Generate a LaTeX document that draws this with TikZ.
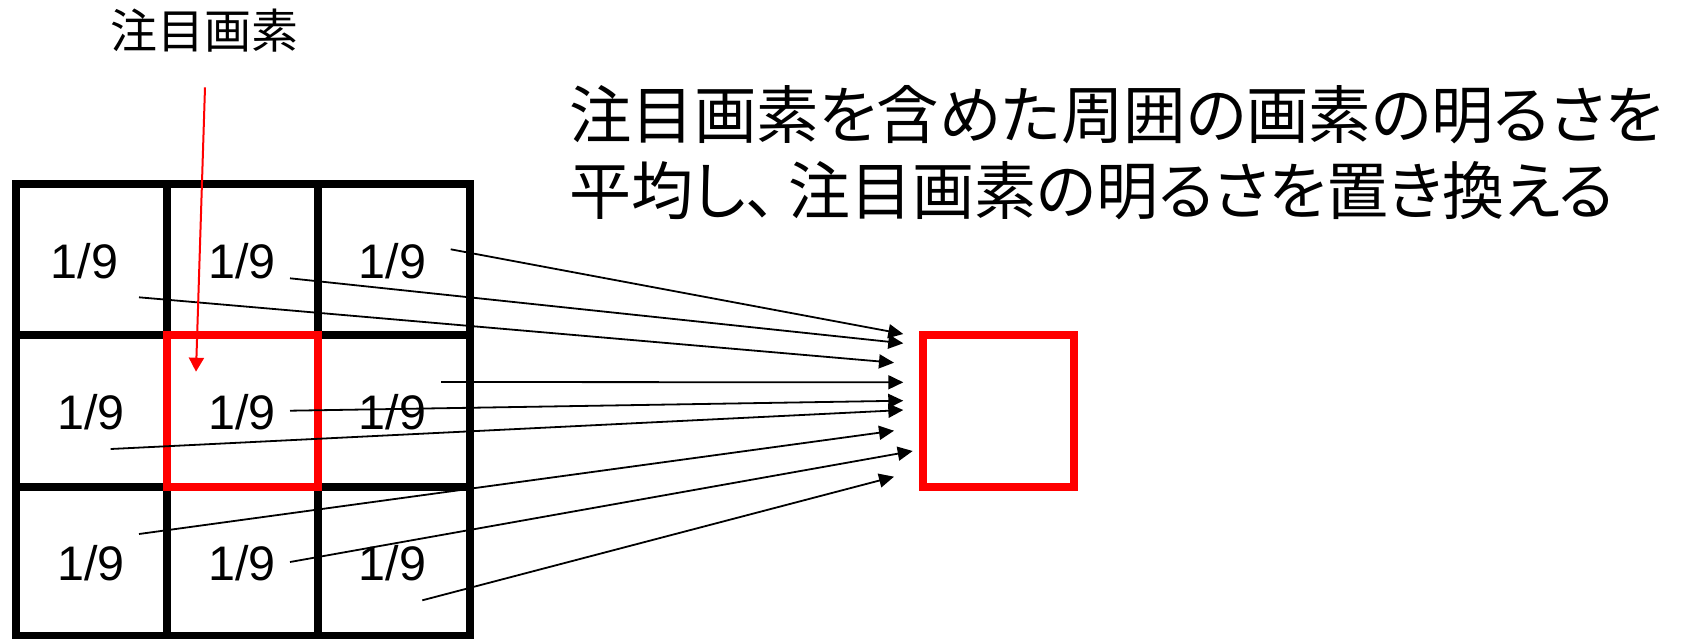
\documentclass[tikz,border=0pt]{standalone}
\usepackage{fontspec}
\setmainfont{Liberation Sans}
\newfontfamily\jp[RawFeature=+palt]{Noto Sans CJK JP}
\newfontfamily\jpm{Noto Sans CJK JP}
\usetikzlibrary{arrows.meta}
\definecolor{pxred}{RGB}{255,0,0}
\newlength\lineawidth
\newlength\linebwidth
\newcommand\bigjp{\jp\fontsize{63}{76}\selectfont}
\newcommand\lineatext{注目画素を含めた周囲の画素の明るさを}
\newcommand\linebtext{平均し、\kern12pt注目画素の明るさを置き換える}
\tikzset{
  gridline/.style={line width=7.5pt, line cap=rect},
  redbox/.style={draw=pxred, line width=7.5pt, minimum width=151pt, minimum height=152pt, inner sep=0pt},
  frac/.style={anchor=base, inner sep=0pt, font=\fontsize{48.5}{58}\selectfont},
  feed/.style={line width=1.8pt, -{Triangle[length=15pt,width=14pt]}},
  pointer/.style={draw=pxred, line width=2pt, -{Triangle[length=14pt,width=15pt]}, pxred},
  label/.style={anchor=base west, inner sep=0pt}
}
\begin{document}
\settowidth\lineawidth{\bigjp\lineatext}
\settowidth\linebwidth{\bigjp\linebtext}
\begin{tikzpicture}[x=1pt,y=-1pt]
\useasboundingbox (0,0) rectangle (1684,638);
\pgfmathsetmacro\scalea{1094/\lineawidth}
\pgfmathsetmacro\scaleb{1045/\linebwidth}
% grid
\draw[gridline] (16,184) rectangle (470,636);
\draw[gridline] (167,184) -- (167,636) (318,184) -- (318,636);
\draw[gridline] (16,335) -- (470,335) (16,487) -- (470,487);
% centre pixel
\node[redbox] (ctr) at (242.5,411) {};
% output pixel
\node[redbox] (out) at (998.5,411) {};
% cell values
\node[frac] (c11) at (84.5,278) {1/9};
\node[frac] (c12) at (242,278) {1/9};
\node[frac] (c13) at (392.5,278) {1/9};
\node[frac] (c21) at (91,429) {1/9};
\node[frac] (c22) at (242,429) {1/9};
\node[frac] (c23) at (392.5,429) {1/9};
\node[frac] (c31) at (91,580) {1/9};
\node[frac] (c32) at (242,580) {1/9};
\node[frac] (c33) at (392.5,580) {1/9};
% labels
\node[label, font={\jpm\fontsize{47}{56}\selectfont}] (lbl) at (110.5,48.7) {注目画素};
\node[label, font=\bigjp] (t1) at (569,138) {\scalebox{\scalea}[1]{\lineatext}};
\node[label, font=\bigjp] (t2) at (569,214) {\scalebox{\scaleb}[1]{\linebtext}};
% arrow start/end points
\coordinate (s1) at (450.7,249.3); \coordinate (e1) at (903.3,334);
\coordinate (s2) at (290,278.3);   \coordinate (e2) at (903.3,343.3);
\coordinate (s3) at (139,297.3);   \coordinate (e3) at (894,362.7);
\coordinate (s4) at (441,382);     \coordinate (e4) at (903.3,382.3);
\coordinate (s5) at (290,410.7);   \coordinate (e5) at (903.3,400.7);
\coordinate (s6) at (110.7,449);   \coordinate (e6) at (903.3,410);
\coordinate (s7) at (139,534);     \coordinate (e7) at (894,430.7);
\coordinate (s8) at (290,562);     \coordinate (e8) at (912.7,451);
\coordinate (s9) at (422.3,600.3); \coordinate (e9) at (894,476.7);
\foreach \i in {1,...,9} {\draw[feed] (s\i) -- (e\i);}
% pointer
\coordinate (ps) at (205,87.3);
\coordinate (pe) at (196,371.7);
\draw[pointer] (ps) -- (pe);
\end{tikzpicture}
\end{document}
